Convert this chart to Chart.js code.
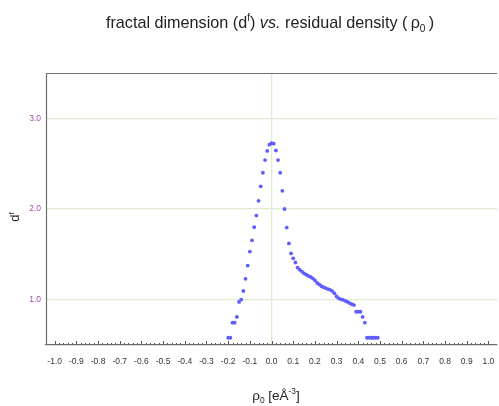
<!DOCTYPE html>
<html>
<head>
<meta charset="utf-8">
<script src="https://cdn.jsdelivr.net/npm/chart.js@4.4.1/dist/chart.umd.min.js"></script>
<style>
  html, body { margin: 0; padding: 0; background: #fff; }
  #wrap { width: 499px; height: 406px; position: relative; }
</style>
</head>
<body>
<div id="wrap"><canvas id="fdChart"></canvas></div>
<script>
// residual density rho0 (e/A^3) and fractal dimension d^f
const rho0 = [
  -0.20, -0.19, -0.18, -0.17, -0.16, -0.15, -0.14, -0.13, -0.12, -0.11,
  -0.10, -0.09, -0.08, -0.07, -0.06, -0.05, -0.04, -0.03, -0.02, -0.01,
   0.00,  0.01,  0.02,  0.03,  0.04,  0.05,  0.06,  0.07,  0.08,  0.09,
   0.10,  0.11,  0.12,  0.13,  0.14,  0.15,  0.16,  0.17,  0.18,  0.19,
   0.20,  0.21,  0.22,  0.23,  0.24,  0.25,  0.26,  0.27,  0.28,  0.29,
   0.30,  0.31,  0.32,  0.33,  0.34,  0.35,  0.36,  0.37,  0.38,  0.39,
   0.40,  0.41,  0.42,  0.43,  0.44,  0.45,  0.46,  0.47,  0.48,  0.49
];
const fractalDim = [
  0.58, 0.58, 0.746, 0.746, 0.81, 0.975, 1.00, 1.096, 1.23, 1.376,
  1.53, 1.655, 1.80, 1.928, 2.09, 2.25, 2.40, 2.54, 2.64, 2.71,
  2.725, 2.72, 2.645, 2.54, 2.40, 2.20, 2.00, 1.795, 1.62, 1.51,
  1.456, 1.41, 1.354, 1.33, 1.31, 1.29, 1.275, 1.262, 1.25, 1.235,
  1.213, 1.184, 1.168, 1.148, 1.137, 1.127, 1.117, 1.108, 1.095, 1.07,
  1.035, 1.015, 1.004, 0.998, 0.987, 0.975, 0.962, 0.95, 0.94, 0.867,
  0.867, 0.867, 0.81, 0.746, 0.58, 0.58, 0.58, 0.58, 0.58, 0.58
];

const xTicks = [-1.0, -0.9, -0.8, -0.7, -0.6, -0.5, -0.4, -0.3, -0.2, -0.1, 0.0,
                0.1, 0.2, 0.3, 0.4, 0.5, 0.6, 0.7, 0.8, 0.9, 1.0];
const yTicks = [1.0, 2.0, 3.0];

const FONT = '"Liberation Sans", Arial, Helvetica, sans-serif';
const GRID = '#dfeccf';
const AXIS = '#6e6e6e';

// draw a run of text pieces; each piece: [text, style] where style is '', 'i', 'sup', 'sub'
function drawRich(ctx, parts, size, x, y, align) {
  const pieceFont = (s) => {
    const sz = (s === 'sup' || s === 'sub') ? size * 0.62 : size;
    return (s === 'i' ? 'italic ' : '') + sz + 'px ' + FONT;
  };
  let total = 0;
  parts.forEach(p => { ctx.font = pieceFont(p[1]); total += ctx.measureText(p[0]).width; });
  let cx = align === 'center' ? x - total / 2 : x;
  ctx.textAlign = 'left';
  ctx.textBaseline = 'alphabetic';
  parts.forEach(p => {
    ctx.font = pieceFont(p[1]);
    let dy = 0;
    if (p[1] === 'sup') dy = -size * 0.42;
    if (p[1] === 'sub') dy = size * 0.22;
    ctx.fillText(p[0], cx, y + dy);
    cx += ctx.measureText(p[0]).width;
  });
}

const decorations = {
  id: 'decorations',
  afterDraw(chart) {
    const ctx = chart.ctx;
    const a = chart.chartArea;
    const xs = chart.scales.x;
    ctx.save();

    // frame: top and left edges
    ctx.strokeStyle = AXIS;
    ctx.lineWidth = 1.2;
    ctx.beginPath();
    ctx.moveTo(a.right, a.top + 0.5);
    ctx.lineTo(a.left + 0.5, a.top + 0.5);
    ctx.lineTo(a.left + 0.5, a.bottom);
    ctx.stroke();

    // inward tick marks on the x axis
    ctx.lineWidth = 1;
    ctx.strokeStyle = '#555';
    for (let i = -50; i <= 50; i++) {
      const px = Math.round(xs.getPixelForValue(i * 0.02)) + 0.5;
      const len = (i % 5 === 0) ? 4 : 2;
      ctx.beginPath();
      ctx.moveTo(px, a.bottom);
      ctx.lineTo(px, a.bottom - len);
      ctx.stroke();
    }

    ctx.fillStyle = '#222';
    // title
    drawRich(ctx, [
      ['fractal dimension (d', ''], ['f', 'sup'], [') ', ''], ['vs.', 'i'],
      [' residual density (\u2009', ''], ['\u03c1', ''], ['0', 'sub'], ['\u2009)', '']
    ], 16.2, 270, 28, 'center');

    // x axis title
    drawRich(ctx, [
      ['\u03c1', ''], ['0', 'sub'], [' [e\u00c5', ''], ['-3', 'sup'], [']', '']
    ], 13.5, 276, 400, 'center');

    // y axis title
    ctx.translate(19, 217);
    ctx.rotate(-Math.PI / 2);
    drawRich(ctx, [['d', ''], ['f', 'sup']], 13, 0, 0, 'center');
    ctx.restore();
  }
};

new Chart(document.getElementById('fdChart'), {
  type: 'scatter',
  data: {
    datasets: [{
      data: rho0.map((x, i) => ({ x: x, y: fractalDim[i] })),
      backgroundColor: '#5e5eff',
      borderWidth: 0,
      pointRadius: 1.9,
      pointHoverRadius: 1.9
    }]
  },
  options: {
    responsive: true,
    maintainAspectRatio: false,
    animation: false,
    layout: { padding: { top: 73, left: 0, right: 0, bottom: 0 } },
    plugins: {
      legend: { display: false },
      tooltip: { enabled: false }
    },
    scales: {
      x: {
        type: 'linear',
        min: -1.04,
        max: 1.04,
        afterBuildTicks: s => { s.ticks = xTicks.map(v => ({ value: v })); },
        afterFit: s => { s.height = 61; s.paddingLeft = 0; s.paddingRight = 0; },
        ticks: {
          padding: 12,
          color: '#333',
          font: { size: 8.5, family: FONT },
          maxRotation: 0,
          autoSkip: false,
          callback: v => v.toFixed(1)
        },
        grid: {
          drawTicks: false,
          color: c => (c.tick && c.tick.value === 0 ? GRID : 'rgba(0,0,0,0)'),
          lineWidth: 1.3
        },
        border: { display: true, color: AXIS, width: 1.2 }
      },
      y: {
        type: 'linear',
        min: 0.5,
        max: 3.5,
        afterBuildTicks: s => { s.ticks = yTicks.map(v => ({ value: v })); },
        afterFit: s => { s.width = 46; s.paddingTop = 0; s.paddingBottom = 0; },
        ticks: {
          padding: 5,
          color: '#a04fa6',
          font: { size: 8.5, family: FONT },
          callback: v => v.toFixed(1)
        },
        grid: {
          drawTicks: false,
          color: GRID,
          lineWidth: 1.3
        },
        border: { display: false }
      }
    }
  },
  plugins: [decorations]
});
</script>
</body>
</html>
